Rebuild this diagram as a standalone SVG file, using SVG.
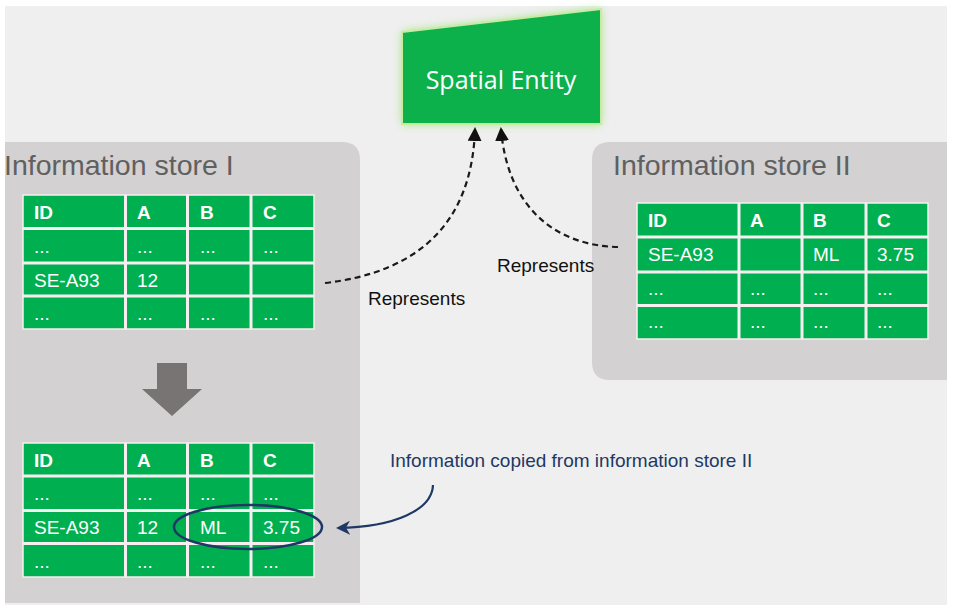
<svg xmlns="http://www.w3.org/2000/svg" width="954" height="611" viewBox="0 0 954 611">
<style>
.panel{fill:#d3d1d2}
.title{font-family:"Liberation Sans",Arial,sans-serif;font-size:28.5px;fill:#606060}
.tbl{fill:#00b050;stroke:#f6eef0;stroke-width:1.5}
.grid{stroke:#f6eef0;stroke-width:3;fill:none}
.th{font-family:"Liberation Sans",Arial,sans-serif;font-size:19px;font-weight:bold;fill:#ffffff}
.td{font-family:"Liberation Sans",Arial,sans-serif;font-size:19px;fill:#ffffff}
.lbl{font-family:"Liberation Sans",Arial,sans-serif;font-size:19px;fill:#111111}
.note{font-family:"Liberation Sans",Arial,sans-serif;font-size:19px;fill:#1f3864}
.dash{fill:none;stroke:#1a1a1a;stroke-width:2.2;stroke-dasharray:6 4}
</style>
<defs>
<marker id="ah" markerWidth="14" markerHeight="14" viewBox="0 0 14 14" refX="12" refY="7" orient="auto" markerUnits="userSpaceOnUse">
<path d="M0,0 L14,7 L0,14 z" fill="#111"/>
</marker>
<marker id="ahb" markerWidth="14" markerHeight="14" viewBox="0 0 14 14" refX="12" refY="7" orient="auto" markerUnits="userSpaceOnUse">
<path d="M0,0 L14,7 L0,14 L4,7 z" fill="#1f3864"/>
</marker>
<filter id="glow" x="-20%" y="-30%" width="140%" height="160%">
<feGaussianBlur stdDeviation="5"/>
</filter>
</defs>
<rect x="0" y="0" width="954" height="611" fill="#ffffff"/>
<rect x="5" y="6" width="942" height="599" fill="#efefef"/>

<g id="store1">
<path class="panel" d="M5,142 H342 Q360,142 360,160 V603 H5 Z"/>
<text class="title" x="4" y="175">Information store I</text>
</g>

<g id="store2">
<path class="panel" d="M947,142 H610 Q592,142 592,160 V362 Q592,380 610,380 H947 Z"/>
<text class="title" x="613" y="175">Information store II</text>
</g>

<g id="spatial-entity">
<polygon points="402,32 601,9 601,124 402,124" fill="#a6e384" filter="url(#glow)"/>
<polygon points="402,32 601,9 601,124 402,124" fill="#0cb14c" stroke="#c6eca0" stroke-width="2"/>
<text x="501" y="89" text-anchor="middle" font-family="'Open Sans',sans-serif" font-size="25" fill="#ffffff">Spatial Entity</text>
</g>

<g id="table1">
<rect class="tbl" x="23" y="195" width="291" height="134"/>
<path class="grid" d="M125.5,195V329M187.5,195V329M251,195V329M23,228.5H314M23,263H314M23,296H314"/>
<text class="th" x="34" y="219">ID</text><text class="th" x="137" y="219">A</text><text class="th" x="200" y="219">B</text><text class="th" x="263" y="219">C</text>
<text class="td" x="34" y="253">...</text><text class="td" x="137" y="253">...</text><text class="td" x="200" y="253">...</text><text class="td" x="263" y="253">...</text>
<text class="td" x="34" y="287">SE-A93</text><text class="td" x="137" y="287">12</text>
<text class="td" x="34" y="320">...</text><text class="td" x="137" y="320">...</text><text class="td" x="200" y="320">...</text><text class="td" x="263" y="320">...</text>
</g>

<g id="down-arrow">
<polygon points="157,363 187,363 187,389 202,389 172,416 142,389 157,389" fill="#787474"/>
</g>

<g id="table2">
<rect class="tbl" x="23" y="443" width="291" height="134"/>
<path class="grid" d="M125.5,443V577M187.5,443V577M251,443V577M23,476H314M23,510.5H314M23,543.5H314"/>
<text class="th" x="34" y="467">ID</text><text class="th" x="137" y="467">A</text><text class="th" x="200" y="467">B</text><text class="th" x="263" y="467">C</text>
<text class="td" x="34" y="500">...</text><text class="td" x="137" y="500">...</text><text class="td" x="200" y="500">...</text><text class="td" x="263" y="500">...</text>
<text class="td" x="34" y="534">SE-A93</text><text class="td" x="137" y="534">12</text><text class="td" x="200" y="534">ML</text><text class="td" x="263" y="534">3.75</text>
<text class="td" x="34" y="568">...</text><text class="td" x="137" y="568">...</text><text class="td" x="200" y="568">...</text><text class="td" x="263" y="568">...</text>
<ellipse cx="248" cy="527" rx="74" ry="22" fill="none" stroke="#1f3864" stroke-width="2.5"/>
</g>

<g id="table3">
<rect class="tbl" x="637" y="203" width="291" height="136"/>
<path class="grid" d="M739,203V339M802,203V339M866,203V339M637,237H928M637,272H928M637,305.5H928"/>
<text class="th" x="648" y="227">ID</text><text class="th" x="750" y="227">A</text><text class="th" x="813" y="227">B</text><text class="th" x="877" y="227">C</text>
<text class="td" x="648" y="261">SE-A93</text><text class="td" x="813" y="261">ML</text><text class="td" x="877" y="261">3.75</text>
<text class="td" x="648" y="295">...</text><text class="td" x="750" y="295">...</text><text class="td" x="813" y="295">...</text><text class="td" x="877" y="295">...</text>
<text class="td" x="648" y="328">...</text><text class="td" x="750" y="328">...</text><text class="td" x="813" y="328">...</text><text class="td" x="877" y="328">...</text>
</g>

<g id="connectors">
<path class="dash" d="M325,283 C420,272 472,222 475,129" marker-end="url(#ah)"/>
<path class="dash" d="M618,247 C560,246 508,212 501,129" marker-end="url(#ah)"/>
<path d="M433,485 C432,510 395,527 338,528" fill="none" stroke="#1f3864" stroke-width="2.2" marker-end="url(#ahb)"/>
<text class="lbl" x="368" y="305">Represents</text>
<text class="lbl" x="497" y="272">Represents</text>
<text class="note" x="390" y="467">Information copied from information store II</text>
</g>
</svg>
